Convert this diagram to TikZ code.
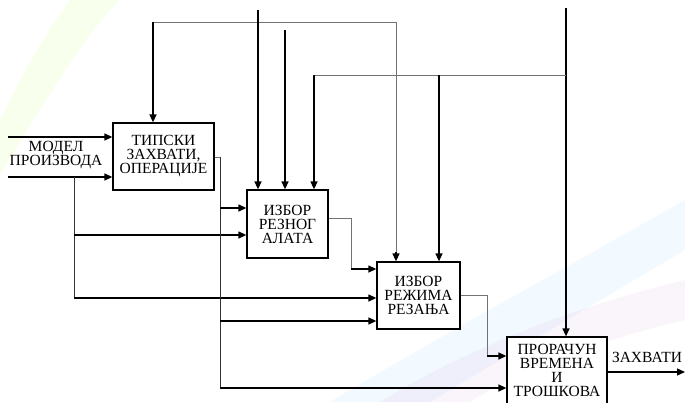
\documentclass[tikz,border=0pt]{standalone}
\usepackage{fontspec}
\setmainfont{Liberation Serif}
\newfontfamily\blockfont{Liberation Serif}
\usetikzlibrary{arrows.meta}

\begin{document}
\begin{tikzpicture}[x=1pt,y=-1pt,>={Triangle[length=8pt,width=7pt]},
	box/.style={draw,line width=1.3pt,fill=white,align=center,inner sep=0pt,
		font=\blockfont\fontsize{15.5}{14}\selectfont},
	flow/.style={->,line width=1.3pt},
	feed/.style={line width=0.8pt,draw=black!80},
	ctrl/.style={line width=0.8pt,draw=black!55},
	lbl/.style={align=center,font=\blockfont\fontsize{15.5}{14}\selectfont}]
		\useasboundingbox (0,0) rectangle (685,402);
		% faint background swooshes
		\fill[green!40!yellow,opacity=0.07] (0,175) .. controls (40,110) and (80,40) .. (120,0)
			-- (70,0) .. controls (40,40) and (15,90) .. (0,120) -- cycle;
		\fill[blue!50!cyan,opacity=0.05] (330,402) .. controls (450,330) and (580,260) .. (685,200)
			-- (685,250) .. controls (600,300) and (500,360) .. (430,402) -- cycle;
		\fill[violet,opacity=0.04] (380,402) .. controls (480,340) and (600,300) .. (685,280)
			-- (685,320) .. controls (600,340) and (520,370) .. (470,402) -- cycle;
		% blocks
		\node[box,minimum width=101pt,minimum height=67pt] (tipski) at (163.5,156.5)
			{ТИПСКИ\\ЗАХВАТИ,\\ОПЕРАЦИЈЕ};
		\node[box,minimum width=81pt,minimum height=68pt] (alat) at (287.5,224)
			{ИЗБОР\\РЕЗНОГ\\АЛАТА};
		\node[box,minimum width=83pt,minimum height=67pt] (rezim) at (418.5,295.5)
			{ИЗБОР\\РЕЖИМА\\РЕЗАЊА};
		\node[box,minimum width=100pt,minimum height=67pt] (proracun) at (557,370.5)
			{ПРОРАЧУН\\ВРЕМЕНА\\И\\ТРОШКОВА};
		% labels
		\node[lbl] (model) at (56,155) {МОДЕЛ\\ПРОИЗВОДА};
		\node[lbl] (zahvati) at (647,357) {ЗАХВАТИ};
		% free ends and bends
		\coordinate (in1) at (8,137);
		\coordinate (in2) at (8,177);
		\coordinate (m) at (74,177);
		\coordinate (t) at (220,157);
		\coordinate (a) at (351,218);
		\coordinate (r) at (487,295);
		\coordinate (out) at (685,372);
		\coordinate (k1) at (258,10);
		\coordinate (k2) at (285,30);
		\coordinate (k3) at (566,8);
		\coordinate (k4) at (566,75);
		\coordinate (k5) at (439,75);
		\coordinate (k6) at (314,75);
		% inputs of the model
		\draw[flow] (in1) -- (in1 -| tipski.west);
		\draw[flow] (in2) -- (in2 -| tipski.west);
		\draw[feed] (m) -- (74,298);
		\draw[flow] (74,235) -- (alat.west |- 0,235);
		\draw[flow] (74,298) -- (rezim.west |- 0,298);
		% typical operations
		\draw[ctrl] (tipski.east |- t) -- (t);
		\draw[feed] (t) -- (220,388);
		\draw[flow] (220,208) -- (alat.west |- 0,208);
		\draw[flow] (220,321) -- (rezim.west |- 0,321);
		\draw[flow] (220,388) -- (proracun.west |- 0,388);
		% block to block
		\draw[ctrl] (alat.east |- a) -- (a) -- (351,269);
		\draw[flow] (351,269) -- (rezim.west |- 0,269);
		\draw[ctrl] (rezim.east |- r) -- (r) -- (487,356);
		\draw[flow] (487,356) -- (proracun.west |- 0,356);
		\draw[flow] (proracun.east |- out) -- (out);
		% controls from above
		\draw[ctrl] (153,22) -- (396,22);
		\draw[flow] (153,21.6) -- (tipski.north -| 153,0);
		\draw[ctrl] (396,22) -- (396,254);
		\draw[flow] (396,252) -- (rezim.north -| 396,0);
		\draw[flow] (k1) -- (alat.north -| k1);
		\draw[flow] (k2) -- (alat.north -| k2);
		\draw[flow] (k3) -- (proracun.north -| k3);
		\draw[ctrl] (k4) -- (k6);
		\draw[flow] (k6) -- (alat.north -| k6);
		\draw[flow] (k5) -- (rezim.north -| k5);
	\end{tikzpicture}
\end{document}
